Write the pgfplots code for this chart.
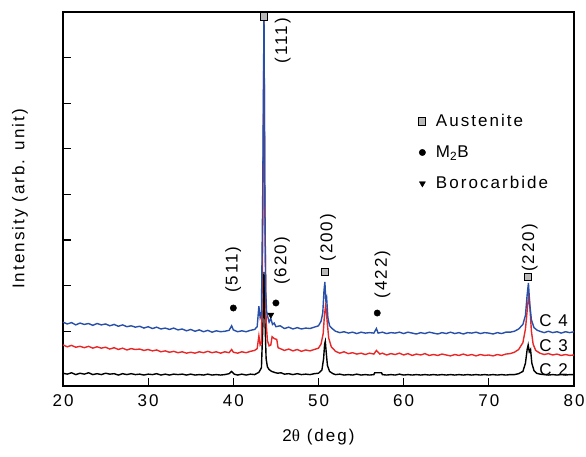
\documentclass[border=0pt]{standalone}
\usepackage{fontspec}
\setmainfont{Liberation Sans}[LetterSpace=12]
\newfontfamily\symfont{Liberation Serif}
\usepackage{pgfplots}
\pgfplotsset{compat=1.18}
\definecolor{cblue}{RGB}{40,80,170}
\definecolor{cred}{RGB}{232,40,40}
\newcommand\fsz{\fontsize{17}{20}\selectfont}

\begin{document}
\begin{tikzpicture}
\path[use as bounding box] (-63pt,-71pt) rectangle (523pt,386pt);
\begin{axis}[
  at={(0pt,0pt)}, anchor=south west,
  scale only axis, width=511pt, height=374pt,
  xmin=20, xmax=80, ymin=-0.2, ymax=8.0,
  xtick={20,30,...,80}, ytick={1,...,7}, yticklabels={},
  tick align=inside, xtick pos=bottom, ytick pos=left,
  major tick length=8pt,
  axis line style={line width=1.3pt},
  tick style={line width=1.2pt, black},
  clip=false,
  /pgf/number format/assume math mode=true,
  tick label style={font=\fsz},
  xticklabel style={yshift=-5pt},
  label style={font=\fsz},
  xlabel={2{\symfont θ} (deg)},
  ylabel={Intensity (arb. unit)},
  xlabel style={at={(axis description cs:0.5,-0.136)}, anchor=center},
  ylabel style={at={(axis description cs:-0.084,0.5)}, anchor=center},
  legend style={at={(axis description cs:0.69,0.737)}, anchor=north west,
    draw=none, fill=none, font=\fsz, row sep=13.5pt},
  legend cell align=left,
]

% C2
\addplot[black, line width=1.4pt, forget plot] coordinates {
(20,0.08) (20.5,0.06) (21,0.09) (21.5,0.05) (22,0.08) (22.5,0.06) (23,0.09) (23.5,0.05)
(24,0.07) (24.5,0.05) (25,0.08) (25.5,0.06) (26,0.07) (26.5,0.04) (27,0.07) (27.5,0.05)
(28,0.07) (28.5,0.05) (29,0.06) (29.5,0.04) (30,0.06) (30.5,0.05) (31,0.07) (31.5,0.04)
(32,0.06) (32.5,0.04) (33,0.06) (33.5,0.05) (34,0.06) (34.5,0.04) (35,0.06) (35.5,0.04)
(36,0.05) (36.5,0.04) (37,0.06) (37.5,0.04) (38,0.05) (38.5,0.04) (39,0.05) (39.5,0.07)
(39.8,0.12) (40.1,0.06) (40.5,0.04) (41,0.06) (41.5,0.04) (42,0.06) (42.5,0.05) (43.0,0.10)
(43.3,0.20) (43.48,1.2) (43.6,2.3) (43.72,1.2) (43.85,0.40) (44.0,0.22) (44.2,0.16)
(44.5,0.12) (44.8,0.10) (45.2,0.08) (45.6,0.09) (46,0.06) (46.5,0.07) (47,0.05) (47.5,0.07)
(48,0.05) (48.5,0.06) (49,0.05) (49.5,0.07) (50,0.08) (50.4,0.15) (50.6,0.40) (50.72,0.72)
(50.8,0.78) (50.9,0.55) (51.05,0.25) (51.3,0.12) (51.7,0.07) (52,0.05) (52.5,0.06) (53,0.04)
(53.5,0.05) (54,0.04) (54.5,0.06) (55,0.04) (55.5,0.05) (56,0.04) (56.5,0.05) (56.6,0.09)
(57.4,0.09) (57.5,0.05) (58,0.04) (58.5,0.05) (59,0.04) (59.5,0.06) (60,0.04) (60.5,0.05)
(61,0.04) (61.5,0.05) (62,0.04) (62.5,0.05) (63,0.04) (63.5,0.05) (64,0.04) (64.5,0.05)
(65,0.04) (65.5,0.05) (66,0.04) (66.5,0.05) (67,0.04) (67.5,0.05) (68,0.04) (68.5,0.05)
(69,0.04) (69.5,0.05) (70,0.04) (70.5,0.05) (71,0.04) (71.5,0.05) (72,0.04) (72.5,0.05)
(73,0.05) (73.5,0.07) (74,0.12) (74.3,0.30) (74.5,0.60) (74.62,0.70) (74.75,0.55) (74.9,0.60)
(75.05,0.30) (75.3,0.14) (75.6,0.08) (76,0.06) (76.5,0.05) (77,0.04) (77.5,0.05) (78,0.04)
(78.5,0.05) (79,0.04) (79.5,0.05) (80,0.05)
};

% C3
\addplot[cred, line width=1.4pt, forget plot] coordinates {
(20,0.70) (20.5,0.66) (21,0.69) (21.5,0.65) (22,0.67) (22.5,0.64) (23,0.67) (23.5,0.63)
(24,0.66) (24.5,0.63) (25,0.65) (25.5,0.61) (26,0.64) (26.5,0.60) (27,0.63) (27.5,0.59)
(28,0.62) (28.5,0.60) (29,0.61) (29.5,0.58) (30,0.60) (30.5,0.57) (31,0.59) (31.5,0.55)
(32,0.57) (32.5,0.54) (33,0.56) (33.5,0.53) (34,0.55) (34.5,0.52) (35,0.54) (35.5,0.52)
(36,0.55) (36.5,0.53) (37,0.56) (37.5,0.53) (38,0.55) (38.5,0.52) (39,0.55) (39.5,0.53)
(39.8,0.60) (40,0.54) (40.5,0.52) (41,0.55) (41.5,0.53) (42,0.56) (42.5,0.58) (42.8,0.62)
(43.0,0.90) (43.15,0.70) (43.3,0.75) (43.45,3.0) (43.6,7.8) (43.72,3.2) (43.85,1.2)
(44.0,0.80) (44.2,0.68) (44.4,0.70) (44.55,0.88) (44.8,0.84) (45.1,0.82) (45.25,0.64)
(45.5,0.62) (46,0.58) (46.5,0.61) (47,0.57) (47.5,0.60) (48,0.56) (48.5,0.59) (49,0.57)
(49.5,0.60) (50,0.63) (50.3,0.72) (50.55,0.95) (50.7,1.35) (50.85,1.58) (51.0,1.25)
(51.2,0.85) (51.5,0.66) (52,0.56) (52.5,0.52) (53,0.55) (53.5,0.51) (54,0.53) (54.5,0.50)
(55,0.52) (55.5,0.49) (56,0.52) (56.5,0.50) (56.8,0.58) (57.2,0.50) (57.5,0.52) (58,0.48)
(58.5,0.51) (59,0.49) (59.5,0.52) (60,0.48) (60.5,0.51) (61,0.47) (61.5,0.50) (62,0.48)
(62.5,0.51) (63,0.47) (63.5,0.49) (64,0.47) (64.5,0.50) (65,0.48) (65.5,0.46) (66,0.49)
(66.5,0.47) (67,0.50) (67.5,0.47) (68,0.49) (68.5,0.46) (69,0.49) (69.5,0.47) (70,0.48)
(70.5,0.46) (71,0.49) (71.5,0.47) (72,0.50) (72.5,0.51) (73,0.54) (73.5,0.60) (74,0.75)
(74.3,1.05) (74.5,1.45) (74.7,1.84) (74.85,1.45) (75.0,1.00) (75.2,0.72) (75.5,0.58)
(76,0.52) (76.5,0.49) (77,0.51) (77.5,0.48) (78,0.50) (78.5,0.47) (79,0.49) (79.5,0.47)
(80,0.48)
};

% C4
\addplot[cblue, line width=1.4pt, forget plot] coordinates {
(20,1.20) (20.5,1.16) (21,1.19) (21.5,1.14) (22,1.18) (22.5,1.15) (23,1.17) (23.5,1.13)
(24,1.17) (24.5,1.14) (25,1.16) (25.5,1.12) (26,1.15) (26.5,1.11) (27,1.14) (27.5,1.10)
(28,1.12) (28.5,1.09) (29,1.11) (29.5,1.07) (30,1.10) (30.5,1.06) (31,1.09) (31.5,1.05)
(32,1.07) (32.5,1.04) (33,1.07) (33.5,1.03) (34,1.05) (34.5,1.01) (35,1.04) (35.5,1.00)
(36,1.03) (36.5,0.99) (37,1.02) (37.5,0.98) (38,1.01) (38.5,0.99) (39,1.00) (39.5,1.02)
(39.8,1.12) (40.0,1.03) (40.5,0.99) (41,1.01) (41.5,0.99) (42,1.02) (42.5,1.04) (42.8,1.10)
(43.0,1.55) (43.15,1.30) (43.3,1.40) (43.45,4.0) (43.6,8.0) (43.7,4.0) (43.8,1.9)
(43.9,1.45) (44.0,1.35) (44.2,1.20) (44.4,1.28) (44.6,1.15) (44.8,1.18) (45.0,1.10)
(45.5,1.12) (46.0,1.06) (46.5,1.09) (47.0,1.05) (47.5,1.08) (48.0,1.05) (48.5,1.07)
(49.0,1.06) (49.5,1.09) (50.0,1.12) (50.3,1.22) (50.5,1.40) (50.65,1.90) (50.75,2.08)
(50.85,1.70) (50.95,1.75) (51.1,1.30) (51.3,1.12) (51.6,1.06) (52.0,1.00) (52.5,0.97)
(53.0,0.99) (53.5,0.96) (54.0,0.98) (54.5,0.95) (55.0,0.98) (55.5,0.96) (56.0,0.97)
(56.5,0.96) (56.8,1.06) (57.0,0.96) (57.5,0.98) (58,0.95) (58.5,0.97) (59,0.96) (59.5,0.98)
(60,0.95) (60.5,0.98) (61,0.96) (61.5,0.94) (62,0.97) (62.5,0.95) (63,0.98) (63.5,0.96)
(64,0.94) (64.5,0.97) (65,0.95) (65.5,0.98) (66,0.95) (66.5,0.97) (67,0.94) (67.5,0.97)
(68,0.96) (68.5,0.98) (69,0.95) (69.5,0.97) (70,0.96) (70.5,0.94) (71,0.97) (71.5,0.95)
(72,0.98) (72.5,0.98) (73,1.00) (73.5,1.05) (74.0,1.15) (74.3,1.35) (74.5,1.80) (74.65,2.06)
(74.8,1.60) (75.0,1.25) (75.3,1.08) (75.7,1.02) (76.0,1.00) (76.5,0.97) (77,1.00) (77.5,0.97)
(78,0.99) (78.5,0.96) (79,0.99) (79.5,0.97) (80,0.99)
};

% phase markers
\addplot[only marks, mark=square*, mark size=3.6pt,
  mark options={fill=gray!55, draw=black, line width=1pt}]
  coordinates {(43.6,7.9) (50.76,2.30) (74.6,2.19)};
\addlegendentry{\hspace{8pt}Austenite}
\addplot[only marks, mark=*, mark size=3.2pt, black]
  coordinates {(40.0,1.51) (45.0,1.62) (56.9,1.40)};
\addlegendentry{\hspace{8pt}M\textsubscript{2}B}
\addplot[only marks, mark=triangle*, mark size=3.5pt, black, mark options={rotate=180}]
  coordinates {(44.4,1.36)};
\addlegendentry{\hspace{8pt}Borocarbide}

% reflection labels
\node[rotate=90, font=\fsz] at (axis cs:45.8,7.37) {(111)};
\node[rotate=90, font=\fsz] at (axis cs:40.0,2.35) {(511)};
\node[rotate=90, font=\fsz] at (axis cs:45.7,2.54) {(620)};
\node[rotate=90, font=\fsz] at (axis cs:51.1,3.05) {(200)};
\node[rotate=90, font=\fsz] at (axis cs:57.5,2.24) {(422)};
\node[rotate=90, font=\fsz] at (axis cs:74.8,2.83) {(220)};

\node[font=\fsz] at (axis cs:77.6,1.23) {C 4};
\node[font=\fsz] at (axis cs:77.6,0.68) {C 3};
\node[font=\fsz] at (axis cs:77.6,0.15) {C 2};
\end{axis}
\end{tikzpicture}
\end{document}
